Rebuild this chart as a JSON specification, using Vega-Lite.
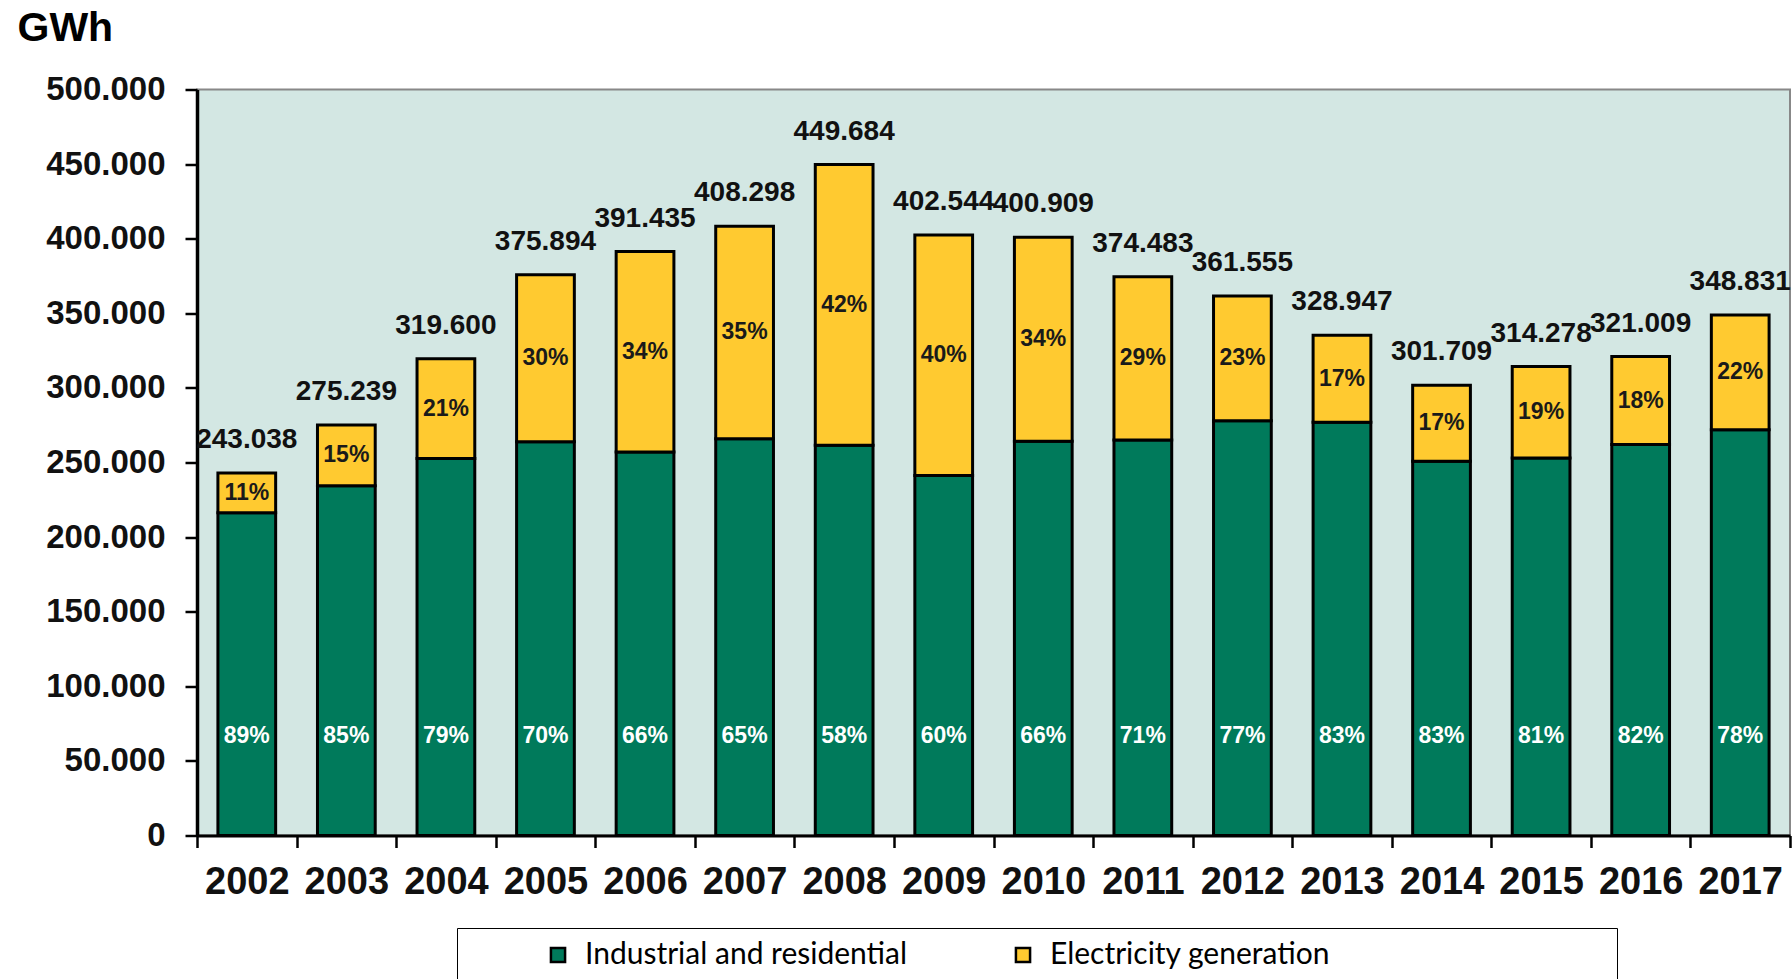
{
  "$schema": "https://vega.github.io/schema/vega-lite/v6.json",
  "width": 1593,
  "height": 746,
  "autosize": {"type": "none"},
  "padding": {"left": 197, "top": 89.5, "right": 2, "bottom": 143.5},
  "background": "white",
  "config": {
    "locale": {"number": {"decimal": ",", "thousands": ".", "grouping": [3], "currency": ["", " €"]}},
    "view": {"fill": "#d3e7e3", "stroke": "#888888", "strokeWidth": 2},
    "font": "Liberation Sans"
  },
  "data": {
    "values": [
      {"year": "2002", "series": "Industrial and residential", "gwh": 216300, "pct": 0.89, "total": 243038},
      {"year": "2002", "series": "Electricity generation", "gwh": 26700, "pct": 0.11, "total": 243038},
      {"year": "2003", "series": "Industrial and residential", "gwh": 234500, "pct": 0.85, "total": 275239},
      {"year": "2003", "series": "Electricity generation", "gwh": 40700, "pct": 0.15, "total": 275239},
      {"year": "2004", "series": "Industrial and residential", "gwh": 252600, "pct": 0.79, "total": 319600},
      {"year": "2004", "series": "Electricity generation", "gwh": 67000, "pct": 0.21, "total": 319600},
      {"year": "2005", "series": "Industrial and residential", "gwh": 263900, "pct": 0.70, "total": 375894},
      {"year": "2005", "series": "Electricity generation", "gwh": 112000, "pct": 0.30, "total": 375894},
      {"year": "2006", "series": "Industrial and residential", "gwh": 257000, "pct": 0.66, "total": 391435},
      {"year": "2006", "series": "Electricity generation", "gwh": 134400, "pct": 0.34, "total": 391435},
      {"year": "2007", "series": "Industrial and residential", "gwh": 266000, "pct": 0.65, "total": 408298},
      {"year": "2007", "series": "Electricity generation", "gwh": 142300, "pct": 0.35, "total": 408298},
      {"year": "2008", "series": "Industrial and residential", "gwh": 261500, "pct": 0.58, "total": 449684},
      {"year": "2008", "series": "Electricity generation", "gwh": 188200, "pct": 0.42, "total": 449684},
      {"year": "2009", "series": "Industrial and residential", "gwh": 241300, "pct": 0.60, "total": 402544},
      {"year": "2009", "series": "Electricity generation", "gwh": 161200, "pct": 0.40, "total": 402544},
      {"year": "2010", "series": "Industrial and residential", "gwh": 264300, "pct": 0.66, "total": 400909},
      {"year": "2010", "series": "Electricity generation", "gwh": 136600, "pct": 0.34, "total": 400909},
      {"year": "2011", "series": "Industrial and residential", "gwh": 265000, "pct": 0.71, "total": 374483},
      {"year": "2011", "series": "Electricity generation", "gwh": 109500, "pct": 0.29, "total": 374483},
      {"year": "2012", "series": "Industrial and residential", "gwh": 278000, "pct": 0.77, "total": 361555},
      {"year": "2012", "series": "Electricity generation", "gwh": 83600, "pct": 0.23, "total": 361555},
      {"year": "2013", "series": "Industrial and residential", "gwh": 277000, "pct": 0.83, "total": 328947},
      {"year": "2013", "series": "Electricity generation", "gwh": 58300, "pct": 0.17, "total": 328947},
      {"year": "2014", "series": "Industrial and residential", "gwh": 250800, "pct": 0.83, "total": 301709},
      {"year": "2014", "series": "Electricity generation", "gwh": 50900, "pct": 0.17, "total": 301709},
      {"year": "2015", "series": "Industrial and residential", "gwh": 253000, "pct": 0.81, "total": 314278},
      {"year": "2015", "series": "Electricity generation", "gwh": 61300, "pct": 0.19, "total": 314278},
      {"year": "2016", "series": "Industrial and residential", "gwh": 262000, "pct": 0.82, "total": 321009},
      {"year": "2016", "series": "Electricity generation", "gwh": 59000, "pct": 0.18, "total": 321009},
      {"year": "2017", "series": "Industrial and residential", "gwh": 272000, "pct": 0.78, "total": 348831},
      {"year": "2017", "series": "Electricity generation", "gwh": 76800, "pct": 0.22, "total": 348831}
    ]
  },
  "encoding": {
    "x": {
      "field": "year",
      "type": "ordinal",
      "scale": {"paddingInner": 0, "paddingOuter": 0},
      "axis": {
        "title": null,
        "labelAngle": 0,
        "labelFont": "Liberation Sans",
        "labelFontSize": 38,
        "labelFontWeight": "bold",
        "labelColor": "#111111",
        "labelBaseline": "alphabetic",
        "labelPadding": 46,
        "tickBand": "extent",
        "tickSize": 12,
        "tickWidth": 2.5,
        "tickColor": "black",
        "domainColor": "black",
        "domainWidth": 3
      }
    }
  },
  "layer": [
    {
      "mark": {"type": "bar", "width": {"band": 0.58}, "stroke": "black", "strokeWidth": 3},
      "encoding": {
        "y": {
          "field": "gwh",
          "type": "quantitative",
          "stack": "zero",
          "title": "GWh",
          "scale": {"domain": [0, 500000], "nice": false},
          "axis": {
            "title": "GWh",
            "titleAngle": 0,
            "titleAlign": "left",
            "titleBaseline": "alphabetic",
            "titleX": -180,
            "titleY": -49,
            "titleFont": "Liberation Sans",
            "titleFontSize": 41,
            "titleFontWeight": "bold",
            "titleColor": "black",
            "values": [0, 50000, 100000, 150000, 200000, 250000, 300000, 350000, 400000, 450000, 500000],
            "labelExpr": "replace(format(datum.value, ','), ',', '.')",
            "labelFont": "Liberation Sans",
            "labelFontSize": 33,
            "labelFontWeight": "bold",
            "labelColor": "#111111",
            "labelPadding": 20,
            "tickSize": 12,
            "tickWidth": 2.5,
            "tickColor": "black",
            "domainColor": "black",
            "domainWidth": 3.5,
            "grid": false
          }
        },
        "color": {
          "field": "series",
          "type": "nominal",
          "scale": {
            "domain": ["Industrial and residential", "Electricity generation"],
            "range": ["#007a5b", "#ffca30"]
          },
          "legend": {
            "orient": "none",
            "legendX": 260,
            "legendY": 838.5,
            "direction": "horizontal",
            "title": "\u00a0",
            "titleOrient": "right",
            "titlePadding": 275,
            "titleFontSize": 10,
            "strokeColor": "black",
            "padding": 12,
            "symbolType": "square",
            "symbolSize": 200,
            "symbolStrokeColor": "black",
            "symbolStrokeWidth": 2.5,
            "symbolOffset": 74,
            "labelFont": "Lato",
            "labelFontSize": 30,
            "labelColor": "black",
            "labelOffset": 12,
            "labelLimit": 0,
            "columnPadding": 26
          }
        },
        "order": {"field": "series", "sort": "descending"}
      }
    },
    {
      "mark": {"type": "text", "baseline": "middle", "dy": -33, "fontSize": 28, "fontWeight": "bold", "color": "#111111", "font": "Liberation Sans"},
      "encoding": {
        "y": {"aggregate": "sum", "field": "gwh", "type": "quantitative", "title": "GWh", "scale": {"domain": [0, 500000], "nice": false}},
        "text": {"aggregate": "max", "field": "total", "type": "quantitative", "format": ","}
      }
    },
    {
      "transform": [{"filter": "datum.series === 'Industrial and residential'"}],
      "mark": {"type": "text", "baseline": "middle", "fontSize": 23, "fontWeight": "bold", "color": "white", "font": "Liberation Sans"},
      "encoding": {
        "y": {"datum": 67000, "type": "quantitative", "title": "GWh", "scale": {"domain": [0, 500000], "nice": false}},
        "text": {"field": "pct", "type": "quantitative", "format": ".0%"}
      }
    },
    {
      "transform": [
        {"stack": "gwh", "groupby": ["year"], "sort": [{"field": "series", "order": "descending"}], "as": ["s0", "s1"]},
        {"filter": "datum.series === 'Electricity generation'"},
        {"fold": ["s0", "s1"], "as": ["edge", "pos"]}
      ],
      "mark": {"type": "text", "baseline": "middle", "fontSize": 23, "fontWeight": "bold", "color": "#1a1a1a", "font": "Liberation Sans"},
      "encoding": {
        "y": {"aggregate": "mean", "field": "pos", "type": "quantitative", "title": "GWh", "scale": {"domain": [0, 500000], "nice": false}},
        "text": {"field": "pct", "type": "quantitative", "format": ".0%"}
      }
    }
  ]
}
